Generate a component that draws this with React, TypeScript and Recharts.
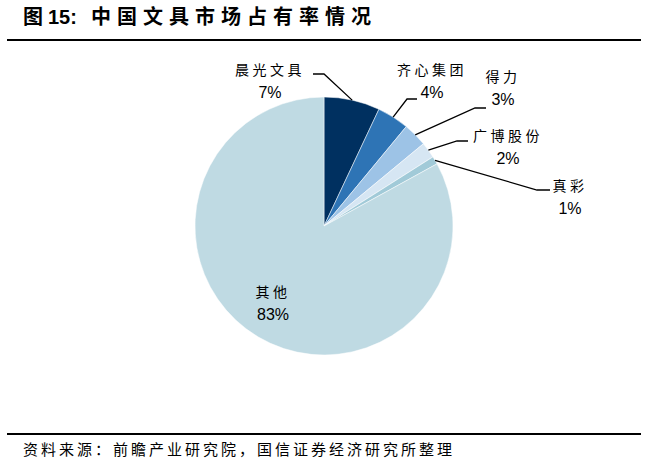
import React from 'react';
import { PieChart, Pie, Cell } from 'recharts';

// 中国文具市场占有率（%）
const companies = ['晨光文具', '齐心集团', '得力', '广博股份', '真彩', '其他'];
const shares = [7, 4, 3, 2, 1, 83];
const colors = ['#003060', '#2e74b5', '#9dc3e6', '#d6e6f3', '#a1cad8', '#bfdae3'];

// label placement relative to the pie centre: elbow, line end, text centre
const labelLayout = [
  { elbow: [0, -152], end: [-11, -152], text: [-54, -156] },
  { elbow: [83, -127], end: [93, -127], text: [108, -156] },
  { elbow: [151, -118], end: [162, -118], text: [179, -149] },
  { elbow: [133, -85], end: [144, -85], text: [184, -90] },
  { elbow: [213, -36], end: [226, -36], text: [246, -40] },
  { elbow: null, end: null, text: [-51, 66] },
];

const data = companies.map((name, i) => ({ name, value: shares[i] }));

const RADIAN = Math.PI / 180;
const FONT = '"Liberation Sans", Arial, "Noto Sans CJK SC", sans-serif';

const renderLabel = (props: any) => {
  const { cx, cy, midAngle, outerRadius, index, name, value } = props;
  const layout = labelLayout[index];
  const sx = cx + outerRadius * Math.cos(-midAngle * RADIAN);
  const sy = cy + outerRadius * Math.sin(-midAngle * RADIAN);
  const tx = cx + layout.text[0];
  const ty = cy + layout.text[1];
  return (
    <g>
      {layout.elbow && layout.end && (
        <polyline
          points={`${sx},${sy} ${cx + layout.elbow[0]},${cy + layout.elbow[1]} ${cx + layout.end[0]},${cy + layout.end[1]}`}
          fill="none"
          stroke="#000"
          strokeWidth={1.3}
        />
      )}
      <text
        x={tx}
        y={ty}
        textAnchor="middle"
        dominantBaseline="central"
        fontSize={14}
        letterSpacing={3.5}
        fontFamily={FONT}
        fill="#000"
      >
        {name}
      </text>
      <text
        x={tx}
        y={ty + 22}
        textAnchor="middle"
        dominantBaseline="central"
        fontSize={16}
        fontFamily={FONT}
        fill="#000"
      >
        {value}%
      </text>
    </g>
  );
};

const App: React.FC = () => {
  return (
    <div
      style={{
        position: 'absolute',
        left: 0,
        top: 0,
        width: 648,
        height: 468,
        background: '#fff',
        fontFamily: FONT,
        overflow: 'hidden',
      }}
    >
      <div style={{ position: 'absolute', left: 23, top: 4, fontSize: 20, fontWeight: 'bold', whiteSpace: 'nowrap', lineHeight: '26px' }}>
        <span>图</span>
        <span style={{ marginLeft: 5 }}>15:</span>
        <span style={{ marginLeft: 14, letterSpacing: 6 }}>中国文具市场占有率情况</span>
      </div>
      <div style={{ position: 'absolute', left: 7, top: 39, width: 634, height: 2, background: '#000' }} />

      <div style={{ position: 'absolute', left: 0, top: 0 }}>
        <PieChart width={648} height={468} margin={{ top: 0, right: 0, bottom: 0, left: 0 }}>
          <Pie
            data={data}
            dataKey="value"
            nameKey="name"
            cx={324}
            cy={226}
            outerRadius={129}
            startAngle={90}
            endAngle={-270}
            stroke="#ffffff"
            strokeWidth={0.5}
            label={renderLabel}
            labelLine={false}
            isAnimationActive={false}
          >
            {data.map((entry, index) => (
              <Cell key={`cell-${index}`} fill={colors[index]} />
            ))}
          </Pie>
        </PieChart>
      </div>

      <div style={{ position: 'absolute', left: 7, top: 433, width: 634, height: 2, background: '#000' }} />
      <div style={{ position: 'absolute', left: 23, top: 440, fontSize: 15, letterSpacing: 3, whiteSpace: 'nowrap', lineHeight: '20px' }}>
        资料来源：前瞻产业研究院，国信证券经济研究所整理
      </div>
    </div>
  );
};

export default App;
